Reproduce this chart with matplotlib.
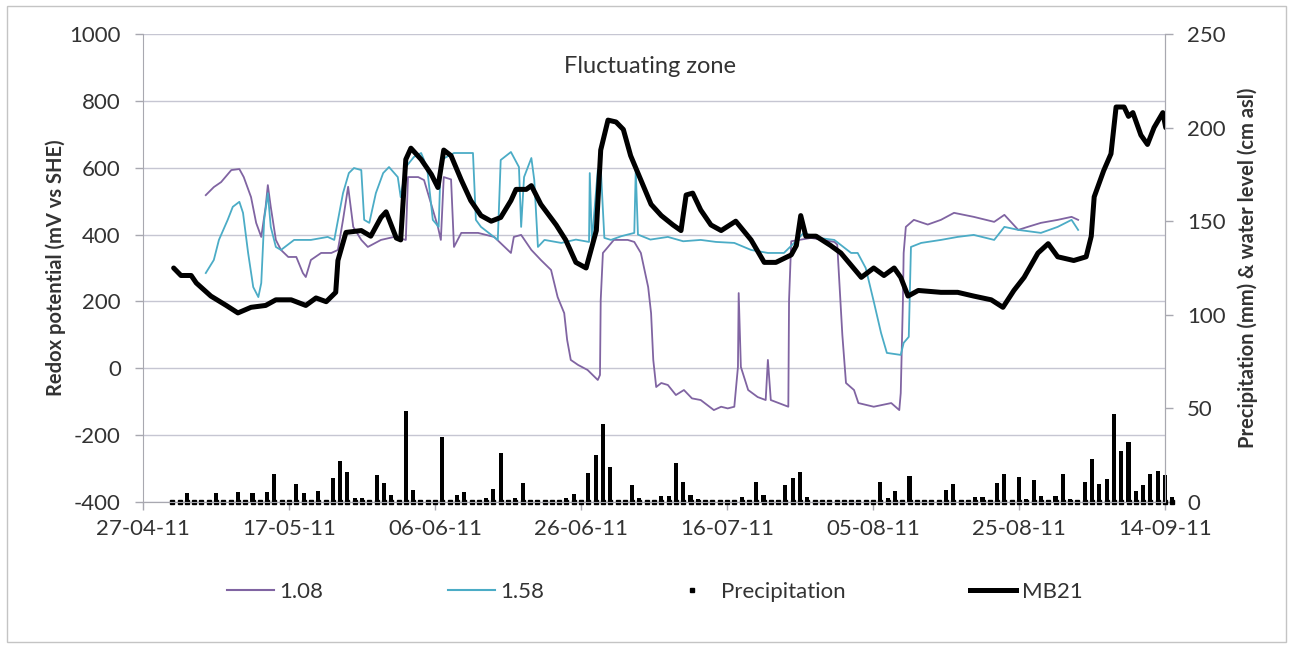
import datetime
import numpy as np
import matplotlib
matplotlib.use("Agg")
from matplotlib import pyplot as plt
import matplotlib.dates as mdates
from matplotlib.lines import Line2D
from matplotlib.patches import Rectangle

plt.rcParams['font.family'] = ['Lato', 'DejaVu Sans']
plt.rcParams['axes.unicode_minus'] = False

# Days counted from 27-04-11
start = mdates.date2num(datetime.datetime(2011, 4, 27))

# Redox 1.08 (mV vs SHE)
days_108 = [8.6, 9.7, 10.7, 12.1, 13.2, 13.8, 14.8, 15.5, 16.2, 16.8, 17.1, 17.5, 18.2, 18.9, 19.9,
            21.0, 21.9, 22.3, 23.0, 24.4, 25.8, 26.7, 27.4, 28.1, 28.8, 29.9, 30.8, 32.6, 34.4, 36.0,
            36.3, 37.7, 38.5, 40.4, 40.8, 41.2, 42.2, 42.6, 43.6, 45.9, 48.1, 50.4, 50.8, 51.8, 53.2,
            54.5, 55.9, 56.8, 57.7, 58.1, 58.6, 59.6, 60.9, 62.3, 62.6, 62.7, 63.0, 63.7, 64.5, 66.4,
            67.3, 68.2, 69.2, 69.6, 69.9, 70.3, 71.0, 71.9, 73.0, 74.1, 75.2, 76.4, 77.3, 78.2, 79.2,
            80.1, 81.0, 81.5, 81.6, 81.9, 82.9, 84.2, 85.3, 85.6, 86.0, 87.2, 88.4, 88.5, 88.8, 91.5,
            94.7, 95.1, 95.8, 96.3, 97.4, 98.0, 100.1, 102.5, 103.6, 103.8, 104.1, 104.2, 104.5, 105.6,
            107.5, 109.3, 111.1, 113.8, 116.6, 118.0, 119.9, 121.2, 123.0, 125.3, 127.2, 128.1]
redox_108 = [518, 542, 557, 593, 596, 572, 512, 435, 393, 483, 548, 483, 384, 354, 333,
             333, 285, 273, 324, 345, 345, 354, 444, 543, 423, 384, 363, 384, 393, 384,
             572, 572, 563, 423, 384, 572, 565, 363, 405, 405, 393, 345, 393, 399, 354,
             324, 294, 213, 165, 85, 25, 10, -5, -35, -20, 204, 345, 363, 384, 384,
             378, 345, 243, 165, 25, -56, -44, -50, -80, -65, -90, -95, -110, -125, -115,
             -120, -115, 4, 225, 4, -65, -86, -95, 25, -95, -105, -115, 204, 380, 390,
             378, 370, 100, -44, -65, -104, -115, -104, -125, -74, 204, 345, 423, 444,
             430, 444, 465, 453, 438, 459, 414, 423, 435, 444, 453, 444]

# Redox 1.58 (mV vs SHE)
days_158 = [8.6, 9.7, 10.4, 11.6, 12.3, 13.2, 13.7, 14.4, 15.1, 15.8, 16.2, 16.6, 17.1, 17.5, 18.2,
            18.9, 20.7, 23.0, 25.3, 26.2, 27.4, 28.2, 28.9, 29.9, 30.3, 31.0, 31.9, 32.9, 33.7, 34.9,
            35.3, 36.0, 37.1, 38.1, 38.5, 39.0, 39.7, 40.5, 40.8, 42.6, 45.2, 45.6, 46.3, 48.6, 49.0,
            50.4, 51.5, 51.8, 52.2, 53.2, 53.6, 54.1, 55.0, 57.3, 59.3, 61.1, 61.2, 61.5, 62.3, 62.7,
            63.2, 64.1, 65.5, 67.3, 67.5, 67.8, 69.5, 71.9, 74.0, 76.4, 78.5, 81.0, 83.3, 85.6, 87.8,
            89.2, 90.5, 92.5, 94.7, 97.0, 97.9, 99.0, 100.1, 101.1, 101.9, 103.8, 104.2, 104.9, 105.2,
            106.6, 109.3, 111.6, 113.8, 116.6, 118.0, 119.9, 123.0, 125.3, 127.2, 128.1]
redox_158 = [285, 324, 384, 444, 483, 498, 465, 345, 243, 213, 255, 444, 524, 423, 363,
             354, 384, 384, 393, 384, 524, 584, 599, 593, 444, 435, 524, 584, 602, 572,
             512, 602, 632, 644, 623, 584, 444, 423, 623, 644, 644, 444, 423, 384, 623,
             647, 602, 423, 572, 629, 563, 363, 384, 375, 385, 378, 584, 380, 593, 602,
             390, 384, 395, 405, 593, 400, 385, 393, 380, 384, 378, 375, 354, 345, 345,
             375, 405, 390, 384, 345, 345, 300, 200, 106, 46, 40, 76, 94, 363,
             375, 384, 393, 399, 384, 423, 414, 405, 423, 444, 414]

# MB21 water level (cm asl)
days_mb21 = [4.2, 5.2, 6.6, 7.3, 9.3, 11.4, 13.0, 14.8, 16.8, 18.2, 20.3, 22.3, 23.7, 25.1, 26.4,
             26.7, 27.8, 29.9, 31.2, 32.6, 33.3, 34.7, 35.3, 36.0, 36.7, 38.1, 39.5, 40.4, 41.2, 42.2,
             43.6, 44.9, 46.3, 47.7, 49.0, 50.4, 51.1, 52.5, 53.2, 54.5, 56.6, 57.9, 59.3, 60.7, 62.1,
             62.7, 63.7, 64.8, 65.8, 66.8, 68.2, 69.6, 71.0, 72.6, 73.7, 74.4, 75.3, 76.4, 77.8, 79.2,
             81.2, 83.3, 85.1, 86.7, 88.8, 89.5, 90.1, 90.8, 92.2, 94.2, 95.6, 98.4, 100.1, 101.5, 102.9,
             103.8, 104.8, 106.2, 109.3, 111.6, 113.8, 116.2, 117.8, 119.3, 120.7, 122.6, 124.0, 125.3,
             127.5, 129.2, 129.9, 130.3, 131.6, 132.6, 133.3, 134.4, 135.0, 135.6, 136.7, 137.6, 138.5,
             139.7, 140.1]
level_mb21 = [125, 121, 121, 117, 110, 105, 101, 104, 105, 108, 108, 105, 109, 107, 112,
              129, 144, 145, 142, 152, 155, 141, 140, 183, 189, 183, 175, 168, 188, 185,
              172, 161, 153, 150, 152, 161, 167, 167, 169, 159, 148, 140, 128, 125, 145,
              188, 204, 203, 199, 185, 172, 159, 153, 148, 145, 164, 165, 156, 148, 145,
              150, 140, 128, 128, 132, 137, 153, 142, 142, 137, 133, 120, 125, 121, 125,
              120, 110, 113, 112, 112, 110, 108, 104, 113, 120, 133, 138, 131,
              129, 131, 142, 163, 177, 186, 211, 211, 206, 208, 196, 191, 200,
              208, 200]

# Daily precipitation (mm), first value on day 4 (01-05-11)
precip_first_day = 4
precip = [0, 0, 4.8, 0, 0, 0, 4.8, 0, 0, 5.5, 1, 4.8, 0, 5.3, 14.8, 1, 0, 9.5, 4.8, 1,
          5.9, 0, 12.8, 21.9, 16.2, 2, 2, 0, 14.3, 10.4, 3.8, 0, 48.5, 6.6, 1, 0, 0, 34.7, 0, 3.8,
          5.5, 0, 0, 2, 6.8, 26.4, 1, 2, 10.1, 0, 1, 0, 0, 0, 2, 4.5, 0, 15.5, 25, 41.5,
          18.7, 0, 0, 8.9, 2, 0, 0, 3, 3, 21, 10.7, 4, 1.5, 0, 0, 0, 0, 0, 2.5, 1,
          10.7, 4, 0, 1, 9.3, 13, 16, 2.5, 0, 0, 0, 0, 0, 0, 0, 0, 0, 10.5,
          2, 5.9, 0, 13.7, 0, 0, 0, 0, 6.2, 9.5, 0, 0, 2.5, 2.5, 1, 10.1, 14.8, 0,
          13.4, 1.5, 11.6, 3, 0, 3, 14.8, 1.5, 0, 10.5, 23.1, 9.8, 12.1, 47, 27.2, 32, 5.9, 8.9, 14.8, 16.6,
          14.3, 2.5]

tick_days = np.arange(0, 141, 20)

c108 = '#8064A2'
c158 = '#4BACC6'
grid_c = '#c6c6d2'
spine_c = '#a8a8b0'
text_c = '#333333'

fig = plt.figure(figsize=(12.91, 6.48), dpi=100)
fig.subplots_adjust(left=143 / 1291, right=1165 / 1291, top=1 - 34 / 648, bottom=1 - 502 / 648)
ax = fig.add_subplot(111)
ax2 = ax.twinx()

ax.plot(start + np.array(days_108), redox_108, color=c108, lw=1.3)
ax.plot(start + np.array(days_158), redox_158, color=c158, lw=1.3)

pdays = start + precip_first_day + np.arange(len(precip))
ax2.bar(pdays, precip, width=0.55, color='black', clip_on=False, zorder=2)
ax2.plot(pdays, np.zeros(len(precip)), 's', color='black', ms=3.2, clip_on=False, zorder=2)
ax2.plot(start + np.array(days_mb21), level_mb21, color='black', lw=3.6,
         solid_joinstyle='round', solid_capstyle='round', zorder=3)

ax.set_xlim(start, start + 140)
ax.set_ylim(-400, 1000)
ax.set_yticks(np.arange(-400, 1001, 200))
ax2.set_ylim(0, 250)
ax2.set_yticks(np.arange(0, 251, 50))
ax.set_xticks(start + tick_days)
ax.xaxis.set_major_formatter(mdates.DateFormatter('%d-%m-%y'))

ax.grid(axis='y', color=grid_c, lw=1)
ax.set_axisbelow(True)
for a in (ax, ax2):
    a.spines['top'].set_visible(False)
    for s in ('left', 'right', 'bottom'):
        a.spines[s].set_color(spine_c)
    a.tick_params(colors=spine_c, labelcolor=text_c, labelsize=16, length=6, width=1)
ax.tick_params(axis='x', pad=6)
ax.tick_params(axis='y', pad=10)
ax2.tick_params(axis='y', pad=10)
ax2.spines['left'].set_visible(False)

ax.set_ylabel('Redox potential (mV vs SHE)', fontsize=14.5, fontweight='bold', color=text_c, labelpad=2)
ax2.set_ylabel('Precipitation (mm) & water level (cm asl)', fontsize=14.5, fontweight='bold',
               color=text_c, labelpad=8)

ax.text(0.496, 0.93, 'Fluctuating zone', transform=ax.transAxes, ha='center', va='center',
        fontsize=17, color=text_c)

handles = [Line2D([], [], color=c108, lw=1.5),
           Line2D([], [], color=c158, lw=1.5),
           Line2D([], [], color='black', marker='s', ms=3.2, ls='none'),
           Line2D([], [], color='black', lw=3.6)]
labels = ['1.08', '1.58', 'Precipitation', 'MB21']
leg = fig.legend(handles, labels, loc='center', bbox_to_anchor=(655 / 1291, 1 - 592 / 648), ncol=4,
                 frameon=False, fontsize=16, handlelength=2.1, handletextpad=0.25, columnspacing=5.6)
for t in leg.get_texts():
    t.set_color(text_c)

fig.patches.append(Rectangle((7 / 1291, 6 / 648), 1279 / 1291, 636 / 648, transform=fig.transFigure,
                             fill=False, ec='#c4c4c4', lw=1))

fig.savefig('out.png', dpi=100)
